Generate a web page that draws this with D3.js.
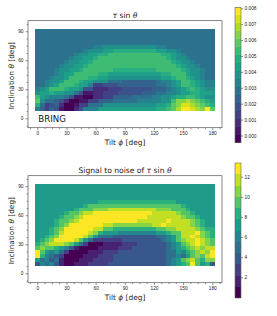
<!DOCTYPE html>
<html>
<head>
<meta charset="utf-8">
<script src="https://cdn.jsdelivr.net/npm/d3@7.8.5/dist/d3.min.js"></script>
<style>
  body { margin: 0; background: #fff; }
  svg { display: block; font-family: 'DejaVu Sans', sans-serif; }
</style>
</head>
<body>
<div id="chart"></div>
<script>
// grid of the two maps: tilt columns, inclination rows (top row first)
const tiltDeg = d3.range(0, 181, 5);
const inclDeg = d3.range(90, 9, -4);

const xTicks = [0, 30, 60, 90, 120, 150, 180];
const yTicks = [0, 30, 60, 90];
const tauTicks = [0, 0.001, 0.002, 0.003, 0.004, 0.005, 0.006, 0.007, 0.008];
const snrTicks = [2, 4, 6, 8, 10, 12];

// colour band of each cell, run-length coded "band:count"
const tauRows = [
  '6:37',
  '6:37',
  '6:37',
  '6:37',
  '6:12 7:2 8:11 7:2 6:10',
  '6:10 7:1 8:3 9:2 a:9 9:2 8:2 7:1 6:7',
  '6:8 7:1 8:2 9:2 a:2 b:11 a:2 9:1 8:1 7:1 6:6',
  '6:7 7:1 8:2 9:2 a:1 b:14 a:1 9:1 8:2 7:1 6:5',
  '6:6 7:1 8:2 9:2 a:1 b:16 a:1 9:1 8:2 7:1 6:4',
  '6:5 7:1 8:2 9:2 a:1 b:18 a:1 9:1 8:2 7:1 6:3',
  '6:4 7:1 8:2 9:2 a:1 b:6 a:9 b:5 a:1 9:1 8:2 7:1 6:2',
  '6:4 7:1 8:1 9:2 b:5 a:2 9:11 a:2 b:3 9:1 8:2 7:1 6:2',
  '6:3 7:1 8:2 9:1 b:4 a:2 9:2 8:11 9:2 a:1 b:2 a:1 9:1 8:1 7:1 6:2',
  '6:2 7:1 8:2 9:1 b:3 a:1 9:2 8:3 6:3 5:7 6:1 7:2 8:1 9:1 b:2 a:1 9:1 8:1 7:2',
  '6:2 7:1 8:1 9:1 b:3 a:1 9:2 7:1 3:2 4:3 5:8 6:2 7:1 8:1 9:1 b:2 a:1 9:1 8:1 7:2',
  '7:1 8:1 9:1 b:3 a:1 9:2 8:1 4:2 2:3 3:3 4:6 5:3 6:1 7:1 8:1 9:1 a:1 b:1 a:1 9:1 8:2',
  '8:1 9:2 a:1 9:2 8:2 6:1 4:1 1:2 2:2 3:3 4:5 5:3 6:2 7:2 8:1 9:2 a:2 9:1 9:2',
  'b:1 9:1 8:1 7:1 7:2 6:1 4:1 1:2 0:2 2:2 3:2 5:4 6:4 7:2 8:2 9:1 a:2 b:2 a:1 9:1 8:2',
  'c:1 8:1 6:2 5:1 4:1 2:1 0:2 1:2 3:2 5:3 6:5 7:5 8:2 b:1 d:2 e:1 d:1 c:1 b:1 a:1 9:1',
  'a:1 6:1 3:1 4:1 5:1 2:1 0:2 1:1 3:2 6:3 8:11 9:2 a:1 c:1 d:1 f:2 e:1 d:1 c:1 b:1 a:1',
  '7:1 5:1 3:1 5:1 4:1 1:1 0:2 2:1 4:1 7:3 9:12 a:2 b:1 c:1 e:1 g:2 f:1 e:1 d:1 g:1 c:1'
];

const snrRows = [
  '6:37',
  '6:37',
  '6:37',
  '6:37',
  '6:13 7:16 6:8',
  '6:10 7:1 8:19 7:1 6:6',
  '6:8 7:1 8:3 9:3 a:10 9:3 8:3 7:1 6:5',
  '6:6 7:1 8:2 9:1 a:2 b:12 a:5 9:1 8:2 7:1 6:4',
  '6:5 7:1 8:2 9:1 a:1 b:13 a:7 9:1 8:2 7:1 6:3',
  '6:4 7:1 8:2 9:1 a:1 b:12 a:6 b:1 a:4 9:1 8:1 7:1 6:2',
  '6:4 7:1 8:1 9:1 b:7 a:2 9:8 a:2 b:1 a:5 9:1 8:1 7:1 6:2',
  '6:3 7:1 8:1 9:1 b:6 a:2 8:2 7:9 8:2 9:2 a:4 9:1 8:1 7:2',
  '6:3 7:1 8:1 a:1 b:5 a:1 9:1 7:1 6:3 5:8 6:2 7:1 8:2 a:3 b:1 9:1 8:1 7:1',
  '6:2 7:1 8:1 9:1 b:5 a:1 8:1 6:1 4:3 3:9 4:2 5:1 6:1 8:1 a:2 b:1 a:1 9:1 8:1 7:1',
  '6:1 7:1 8:1 9:1 b:4 a:1 8:1 6:1 4:1 2:6 3:8 4:1 5:1 6:1 8:1 9:1 a:2 b:1 a:1 9:1 8:1',
  '7:1 8:1 9:1 a:3 9:1 8:1 6:1 4:1 2:1 0:3 1:4 2:3 3:6 4:1 5:1 6:1 8:1 9:1 a:1 b:1 a:1 9:1 8:1',
  '8:1 9:1 8:2 7:1 6:1 5:1 3:1 1:1 0:4 1:4 2:3 3:7 4:1 5:1 6:1 7:1 8:1 9:1 a:1 9:1 a:2',
  'b:1 8:1 6:1 5:1 6:1 4:1 2:1 0:4 1:3 2:3 3:10 4:2 6:1 5:1 7:1 8:1 9:1 a:1 9:1 b:1',
  'b:1 7:1 5:1 4:1 3:1 2:1 0:4 1:3 2:3 3:11 4:2 5:1 4:1 6:1 8:1 9:1 8:1 a:1 b:1',
  '6:1 4:1 5:1 3:1 4:1 1:1 0:3 1:3 2:4 3:11 4:1 5:1 6:1 8:1 9:1 a:1 8:1 7:1 9:2',
  '3:1 5:1 4:1 5:1 3:1 1:1 0:2 1:3 2:4 3:12 4:1 5:1 6:1 7:1 8:1 b:1 8:1 6:1 7:1 3:1'
];

const width = 277;
const height = 316;

const panels = [
  {
    title: [['', 'τ'], [' sin ', ''], ['', 'θ']],
    rows: tauRows, top: 20.7, bottom: 127.7, titleY: 17.6,
    cbTop: 7.3, cbBottom: 142.7, domain: [-0.00045, 0.00806], bands: 17,
    cbTicks: tauTicks, fmt: d3.format('.3f'), note: 'BRING'
  },
  {
    title: [['Signal to noise of ', ''], ['', 'τ'], [' sin ', ''], ['', 'θ']],
    rows: snrRows, top: 175.7, bottom: 282.7, titleY: 172.8,
    cbTop: 163, cbBottom: 298, domain: [-0.06, 13.36], bands: 12,
    cbTicks: snrTicks, fmt: d3.format('d'), note: null
  }
];

const svg = d3.select('#chart')
  .append('svg')
  .attr('width', width)
  .attr('height', height);

const x = d3.scaleLinear().domain([-9.6, 190]).range([28, 222]);

function decodeRows(rows, domain, bands) {
  const step = (domain[1] - domain[0]) / bands;
  const cells = [];
  rows.forEach((row, r) => {
    const levels = row.split(' ').flatMap(run => {
      const [band, count] = run.split(':');
      return d3.range(+count).map(() => parseInt(band, 36));
    });
    if (levels.length !== tiltDeg.length) throw new Error(`row ${r} has ${levels.length} cells`);
    levels.forEach((lv, c) => {
      cells.push({ tilt: tiltDeg[c], incl: inclDeg[r], value: domain[0] + (lv + 0.5) * step });
    });
  });
  return cells;
}

function addMathText(sel, parts) {
  parts.forEach(([plain, math]) => {
    if (plain) sel.append('tspan').text(plain);
    if (math) sel.append('tspan').attr('font-style', 'italic').text(math);
  });
}

function drawPanel(p) {
  const g = svg.append('g');
  const y = d3.scaleLinear().domain([-9.7, 100.9]).range([p.bottom, p.top]);
  const color = d3.scaleQuantize()
    .domain(p.domain)
    .range(d3.range(p.bands).map(i => d3.interpolateViridis(i / (p.bands - 1))));

  const cells = decodeRows(p.rows, p.domain, p.bands);

  g.append('g')
    .attr('shape-rendering', 'crispEdges')
    .selectAll('rect')
    .data(cells)
    .enter()
    .append('rect')
    .attr('x', d => x(d.tilt - 2.5))
    .attr('width', d => x(d.tilt + 2.5) - x(d.tilt - 2.5))
    .attr('y', d => y(d.incl + 2))
    .attr('height', d => y(d.incl - 2) - y(d.incl + 2))
    .attr('fill', d => color(d.value));

  // frame
  g.append('rect')
    .attr('x', x.range()[0])
    .attr('y', p.top)
    .attr('width', x.range()[1] - x.range()[0])
    .attr('height', p.bottom - p.top)
    .attr('fill', 'none')
    .attr('stroke', '#555')
    .attr('stroke-width', 0.7);

  const xMinor = d3.range(-7.5, 190, 7.5).filter(v => v % 30 !== 0);
  const yMinor = d3.range(-7.5, 100, 7.5).filter(v => v % 30 !== 0);

  const xAxis = g.append('g')
    .attr('transform', `translate(0,${p.bottom})`)
    .call(d3.axisBottom(x).tickValues(xTicks).tickSize(2.5).tickPadding(1.5));
  g.append('g')
    .attr('transform', `translate(0,${p.bottom})`)
    .call(d3.axisBottom(x).tickValues(xMinor).tickSize(1.4).tickFormat(''));

  const yAxis = g.append('g')
    .attr('transform', `translate(${x.range()[0]},0)`)
    .call(d3.axisLeft(y).tickValues(yTicks).tickSize(2.5).tickPadding(2));
  g.append('g')
    .attr('transform', `translate(${x.range()[0]},0)`)
    .call(d3.axisLeft(y).tickValues(yMinor).tickSize(1.4).tickFormat(''));

  g.selectAll('.domain').remove();
  g.selectAll('.tick line').attr('stroke', '#444').attr('stroke-width', 0.6);
  [xAxis, yAxis].forEach(a => a.selectAll('text').attr('font-size', 4.8).attr('fill', '#222'));

  // title and labels
  const title = g.append('text')
    .attr('x', 125)
    .attr('y', p.titleY)
    .attr('text-anchor', 'middle')
    .attr('font-size', 7.6)
    .attr('fill', '#222');
  addMathText(title, p.title);

  const xl = g.append('text')
    .attr('x', 125)
    .attr('y', p.bottom + 17.5)
    .attr('text-anchor', 'middle')
    .attr('font-size', 7.4)
    .attr('fill', '#222');
  addMathText(xl, [['Tilt ', 'ϕ'], [' [deg]', '']]);

  const yl = g.append('text')
    .attr('transform', `translate(13.6,${(p.top + p.bottom) / 2 + 1.5}) rotate(-90)`)
    .attr('text-anchor', 'middle')
    .attr('font-size', 7.4)
    .attr('fill', '#222');
  addMathText(yl, [['Inclination ', 'θ'], [' [deg]', '']]);

  if (p.note) {
    g.append('text')
      .attr('x', 38.3)
      .attr('y', y(0) + 3.3)
      .attr('font-size', 8.6)
      .attr('fill', '#111')
      .text(p.note);
  }

  // colour bar
  const cb = g.append('g');
  const cbY = d3.scaleLinear().domain(p.domain).range([p.cbBottom, p.cbTop]);
  const step = (p.domain[1] - p.domain[0]) / p.bands;
  cb.append('g')
    .attr('shape-rendering', 'crispEdges')
    .selectAll('rect')
    .data(d3.range(p.bands))
    .enter()
    .append('rect')
    .attr('x', 235)
    .attr('width', 6)
    .attr('y', i => cbY(p.domain[0] + (i + 1) * step))
    .attr('height', i => cbY(p.domain[0] + i * step) - cbY(p.domain[0] + (i + 1) * step))
    .attr('fill', i => color(p.domain[0] + (i + 0.5) * step));
  cb.append('rect')
    .attr('x', 235)
    .attr('y', p.cbTop)
    .attr('width', 6)
    .attr('height', p.cbBottom - p.cbTop)
    .attr('fill', 'none')
    .attr('stroke', '#666')
    .attr('stroke-width', 0.6);
  const cbAxis = cb.append('g')
    .attr('transform', 'translate(241,0)')
    .call(d3.axisRight(cbY).tickValues(p.cbTicks).tickSize(2).tickPadding(1.5).tickFormat(p.fmt));
  cbAxis.select('.domain').remove();
  cbAxis.selectAll('.tick line').attr('stroke', '#444').attr('stroke-width', 0.6);
  cbAxis.selectAll('text').attr('font-size', 4.8).attr('fill', '#222');
}

panels.forEach(drawPanel);
</script>
</body>
</html>
